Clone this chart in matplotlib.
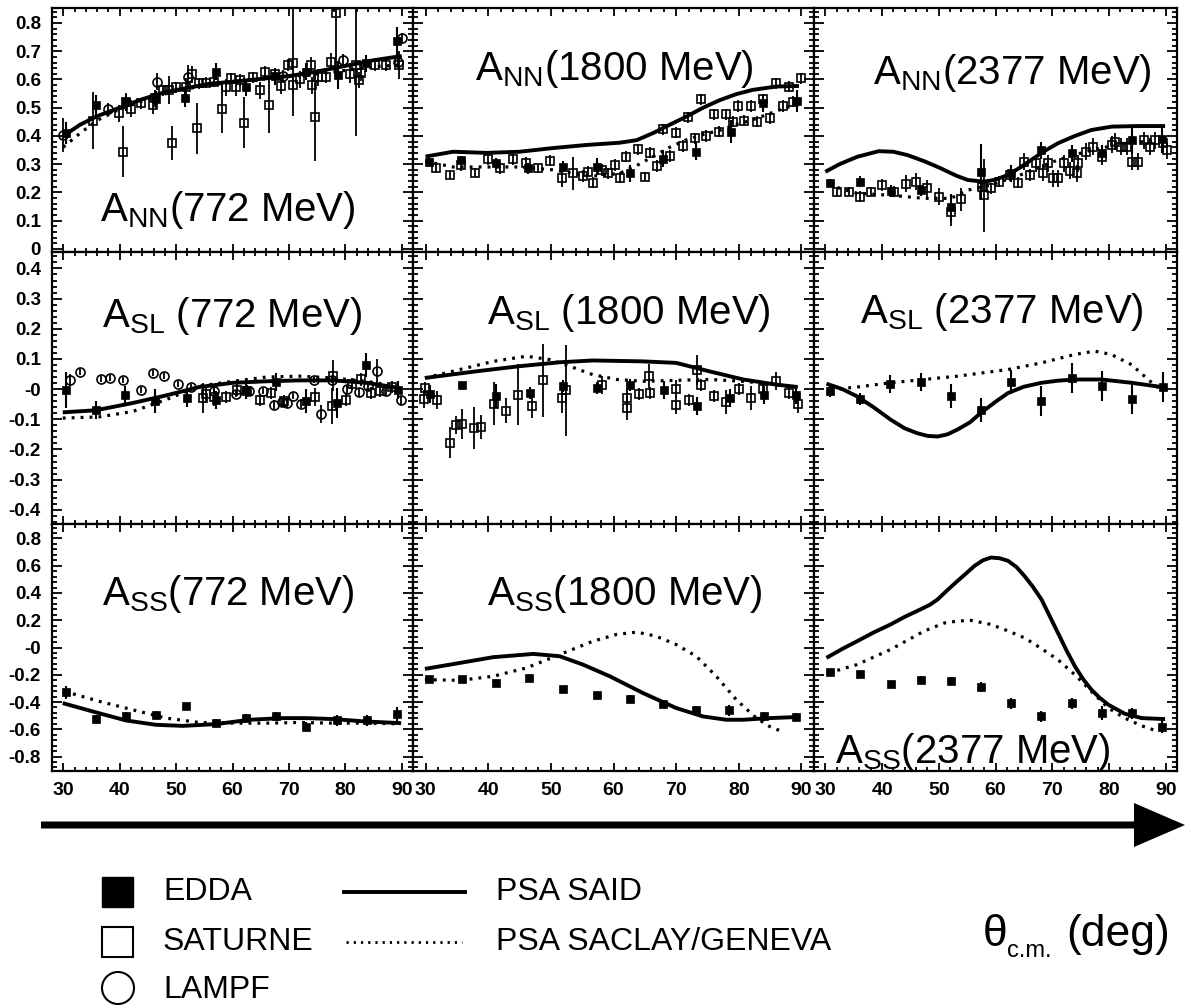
import numpy as np
import matplotlib
matplotlib.use('Agg')
import matplotlib.pyplot as plt
from matplotlib.ticker import FixedLocator, MultipleLocator, FuncFormatter, NullFormatter
from matplotlib.patches import FancyArrow, Rectangle, Ellipse
from matplotlib.lines import Line2D

plt.rcParams['font.family'] = ['Liberation Sans', 'DejaVu Sans']
plt.rcParams['mathtext.fontset'] = 'custom'
plt.rcParams['mathtext.rm'] = 'Liberation Sans'
plt.rcParams['mathtext.it'] = 'Liberation Sans:italic'
plt.rcParams['mathtext.bf'] = 'Liberation Sans:bold'
plt.rcParams['axes.unicode_minus'] = False

# ---------------- DATA ----------------
# ===== A_NN 772 MeV =====
nn772_said_x = [30, 33, 36, 40, 44, 48, 52, 56, 60, 65, 70, 75, 80, 85, 90]
nn772_said_y = [0.40, 0.44, 0.47, 0.50, 0.53, 0.555, 0.57, 0.585, 0.592, 0.602, 0.612, 0.628, 0.648, 0.668, 0.683]
nn772_sg_x = [30, 33, 36, 40, 45, 50, 55, 60, 65, 70, 75, 80, 85, 90]
nn772_sg_y = [0.36, 0.41, 0.455, 0.495, 0.53, 0.56, 0.578, 0.59, 0.60, 0.61, 0.62, 0.632, 0.645, 0.652]
nn772_edda_x = [30.4, 35.8, 41.1, 46.4, 51.5, 57.1, 62.4, 67.6, 73.1, 78.7, 83.7, 89.2]
nn772_edda_y = [0.41, 0.509, 0.52, 0.53, 0.533, 0.627, 0.572, 0.612, 0.627, 0.615, 0.657, 0.737]
nn772_edda_e = [0.04, 0.035, 0.03, 0.03, 0.03, 0.03, 0.03, 0.03, 0.03, 0.05, 0.03, 0.05]
nn772_sat_x = [35.3, 39.9, 40.5, 41.1, 42.0, 43.8, 45.9, 46.2, 47.6, 48.8, 49.3, 50.0, 51.8, 52.8, 53.7,
               54.1, 55.3, 56.8, 58.2, 58.9, 59.8, 60.7, 61.4, 62.1, 63.6, 64.8, 65.7, 66.4, 67.5, 68.6,
               69.8, 70.8, 70.8, 71.9, 74.0, 74.1, 74.6, 75.2, 76.6, 77.5, 78.4, 80.8, 81.9, 82.5, 82.8,
               85.2, 87.3, 89.5]
nn772_sat_y = [0.454, 0.48, 0.344, 0.521, 0.497, 0.515, 0.509, 0.533, 0.562, 0.562, 0.376, 0.572, 0.574, 0.619, 0.427,
               0.586, 0.588, 0.592, 0.497, 0.572, 0.604, 0.572, 0.598, 0.447, 0.607, 0.562, 0.627, 0.509, 0.619, 0.577,
               0.651, 0.659, 0.58, 0.60, 0.651, 0.58, 0.466, 0.607, 0.607, 0.663, 0.836, 0.619, 0.651, 0.598, 0.624,
               0.651, 0.651, 0.651]
nn772_sat_e = [0.10, 0.03, 0.09, 0.03, 0.03, 0.02, 0.03, 0.03, 0.02, 0.05, 0.06, 0.02, 0.03, 0.03, 0.09,
               0.02, 0.02, 0.02, 0.085, 0.03, 0.02, 0.03, 0.02, 0.09, 0.02, 0.03, 0.02, 0.10, 0.02, 0.03,
               0.02, 0.19, 0.03, 0.03, 0.03, 0.03, 0.155, 0.03, 0.02, 0.03, 0.23, 0.03, 0.25, 0.03, 0.03,
               0.02, 0.02, 0.05]
nn772_lampf_x = [29.9, 37.9, 46.7, 52.1, 68.9, 79.6, 89.4, 90.1]
nn772_lampf_y = [0.403, 0.497, 0.592, 0.61, 0.612, 0.669, 0.663, 0.745]
nn772_lampf_e = [0.06, 0.02, 0.03, 0.04, 0.02, 0.02, 0.02, 0.02]

# ===== A_NN 1800 MeV =====
nn1800_said_x = [30, 34.4, 39.7, 45, 50.3, 55.7, 61, 63.7, 66.3, 69, 71.6, 74.3, 77, 79.6, 82.2, 86, 89.6]
nn1800_said_y = [0.327, 0.344, 0.34, 0.344, 0.357, 0.368, 0.376, 0.385, 0.41, 0.44, 0.468, 0.50, 0.527, 0.548, 0.563, 0.575, 0.577]
nn1800_sg_x = [30, 34.4, 39.7, 45, 50.3, 55.7, 58, 61, 63.7, 66.3, 69, 71.6, 74.3, 77, 79.6, 82.2, 85, 87.5, 89.6]
nn1800_sg_y = [0.31, 0.29, 0.29, 0.29, 0.28, 0.26, 0.258, 0.268, 0.295, 0.327, 0.36, 0.386, 0.405, 0.42, 0.44, 0.457, 0.48, 0.50, 0.51]
nn1800_edda_x = [30.6, 35.7, 41.3, 46.4, 51.95, 57.3, 62.6, 67.9, 73.2, 78.8, 83.85, 89.3]
nn1800_edda_y = [0.306, 0.315, 0.303, 0.285, 0.291, 0.291, 0.267, 0.32, 0.344, 0.415, 0.515, 0.523]
nn1800_edda_e = [0.015, 0.015, 0.02, 0.02, 0.02, 0.03, 0.03, 0.03, 0.03, 0.04, 0.03, 0.04]
nn1800_sat_x = [31.75, 33.9, 35.7, 37.9, 40.0, 41.85, 43.9, 46.0, 48.0, 49.9, 51.8, 53.55, 55.1, 55.9, 56.7,
                58.1, 59.1, 60.2, 61.0, 62.05, 63.9, 65.0, 65.9, 66.9, 67.9, 69.0, 69.9, 71.1, 71.9, 73.0,
                74.0, 74.8, 76.0, 76.8, 77.9, 79.0, 79.9, 80.9, 82.0, 82.9, 83.85, 84.9, 85.9, 87.0, 88.0,
                88.6, 90.0]
nn1800_sat_y = [0.285, 0.262, 0.297, 0.27, 0.317, 0.285, 0.317, 0.305, 0.285, 0.312, 0.25, 0.267, 0.258, 0.273, 0.234,
                0.279, 0.267, 0.297, 0.252, 0.326, 0.352, 0.256, 0.341, 0.293, 0.423, 0.329, 0.411, 0.364, 0.466, 0.391,
                0.529, 0.40, 0.477, 0.415, 0.477, 0.45, 0.506, 0.454, 0.506, 0.45, 0.529, 0.462, 0.586, 0.506, 0.574,
                0.521, 0.604]
nn1800_sat_e = [0.015, 0.015, 0.02, 0.015, 0.02, 0.02, 0.02, 0.02, 0.015, 0.02, 0.03, 0.06, 0.02, 0.02, 0.02,
                0.02, 0.02, 0.02, 0.02, 0.02, 0.02, 0.015, 0.02, 0.02, 0.02, 0.02, 0.02, 0.02, 0.02, 0.02,
                0.02, 0.02, 0.02, 0.02, 0.02, 0.02, 0.02, 0.02, 0.02, 0.02, 0.02, 0.02, 0.02, 0.02, 0.02,
                0.02, 0.02]

# ===== A_NN 2377 MeV =====
nn2377_said_x = [30, 32.5, 35.6, 39.4, 42, 44.5, 47.5, 50.4, 53, 55.1, 58, 60, 62.2, 64.5, 66.3, 68.5, 71, 74, 76.9, 80.5, 85, 89.9]
nn2377_said_y = [0.273, 0.30, 0.326, 0.346, 0.344, 0.332, 0.31, 0.285, 0.26, 0.244, 0.238, 0.245, 0.262, 0.29, 0.315, 0.345, 0.374, 0.40, 0.421, 0.433, 0.435, 0.435]
nn2377_sg_x = [30.6, 35.6, 41.5, 47.4, 52.1, 55.1, 59.2, 65.1, 71.0, 76.9, 82.8, 89.3]
nn2377_sg_y = [0.226, 0.197, 0.19, 0.179, 0.179, 0.208, 0.226, 0.267, 0.315, 0.35, 0.374, 0.385]
nn2377_edda_x = [30.8, 36.1, 41.5, 46.8, 52.1, 57.4, 62.75, 68.1, 73.4, 78.7, 84.0, 89.3]
nn2377_edda_y = [0.234, 0.238, 0.206, 0.208, 0.147, 0.273, 0.267, 0.35, 0.338, 0.338, 0.385, 0.388]
nn2377_edda_e = [0.015, 0.02, 0.02, 0.02, 0.048, 0.10, 0.03, 0.03, 0.03, 0.03, 0.05, 0.05]
nn2377_sat_x = [32.1, 34.1, 36.1, 38.0, 40.0, 42.1, 44.2, 45.9, 48.0, 50.1, 52.1, 54.0, 57.7, 58.0, 59.2,
                60.7, 62.5, 63.9, 65.1, 66.0, 67.2, 68.4, 69.2, 70.1, 71.0, 72.1, 73.1, 74.3, 74.6, 76.0,
                77.2, 78.7, 80.5, 81.0, 82.2, 83.1, 84.0, 85.2, 86.1, 87.2, 88.1, 89.6, 90.2]
nn2377_sat_y = [0.203, 0.203, 0.185, 0.203, 0.226, 0.203, 0.23, 0.238, 0.214, 0.185, 0.132, 0.175, 0.22, 0.19, 0.214,
                0.238, 0.262, 0.234, 0.309, 0.262, 0.303, 0.27, 0.303, 0.25, 0.25, 0.303, 0.277, 0.267, 0.303, 0.344,
                0.362, 0.326, 0.368, 0.38, 0.362, 0.362, 0.309, 0.309, 0.385, 0.362, 0.385, 0.374, 0.35]
nn2377_sat_e = [0.015, 0.015, 0.02, 0.015, 0.02, 0.02, 0.03, 0.03, 0.03, 0.03, 0.05, 0.04, 0.02, 0.13, 0.02,
                0.02, 0.02, 0.02, 0.03, 0.02, 0.03, 0.03, 0.03, 0.03, 0.03, 0.03, 0.03, 0.03, 0.03, 0.03,
                0.03, 0.03, 0.03, 0.03, 0.03, 0.03, 0.03, 0.03, 0.03, 0.03, 0.03, 0.03, 0.03]

# ===== A_SL 772 MeV =====
sl772_said_x = [29.9, 35.8, 42.3, 48.2, 54.1, 60.1, 66.0, 71.9, 77.8, 83.7, 89.6]
sl772_said_y = [-0.077, -0.07, -0.046, -0.021, 0.007, 0.021, 0.026, 0.029, 0.029, 0.021, 0.004]
sl772_sg_x = [29.9, 36.4, 42.3, 48.2, 54.1, 60.1, 66.0, 71.9, 77.8, 83.7, 89.0]
sl772_sg_y = [-0.096, -0.092, -0.074, -0.035, 0.01, 0.026, 0.04, 0.043, 0.037, 0.026, 0.01]
sl772_edda_x = [30.4, 35.8, 41.0, 46.2, 51.9, 57.1, 62.4, 67.8, 72.97, 78.5, 83.7, 89.35]
sl772_edda_y = [-0.002, -0.07, -0.018, -0.04, -0.029, -0.037, -0.002, 0.023, -0.04, -0.046, 0.081, -0.002]
sl772_edda_e = [0.06, 0.03, 0.03, 0.04, 0.03, 0.03, 0.03, 0.03, 0.04, 0.05, 0.04, 0.03]
sl772_sat_x = [54.7, 55.3, 56.8, 58.9, 60.8, 62.5, 64.8, 66.9, 69.2, 74.6, 77.7, 77.8, 80.2, 81.2, 82.8, 84.6, 86.1, 88.2]
sl772_sat_y = [-0.029, -0.015, -0.026, -0.026, -0.004, -0.007, -0.037, -0.013, -0.04, -0.026, -0.055, 0.045, -0.035, 0.018, 0.032, -0.013, -0.007, 0.007]
sl772_sat_e = [0.05, 0.03, 0.03, 0.02, 0.02, 0.02, 0.02, 0.02, 0.02, 0.03, 0.06, 0.05, 0.02, 0.02, 0.02, 0.02, 0.02, 0.02]
sl772_lampf_x = [31.2, 33.0, 36.7, 38.2, 40.6, 43.8, 45.9, 47.8, 50.3, 52.7, 56.8, 60.7, 63.0, 65.4, 67.3, 68.8,
                 69.6, 70.8, 72.2, 74.4, 75.7, 77.7, 80.3, 82.4, 84.0, 85.6, 87.3, 89.9]
sl772_lampf_y = [0.029, 0.056, 0.034, 0.037, 0.029, -0.002, 0.052, 0.045, 0.017, 0.007, -0.007, -0.015, -0.007, -0.007, -0.051, -0.044,
                 -0.046, -0.022, -0.048, 0.029, -0.081, 0.029, 0.0, -0.01, 0.01, 0.059, -0.007, -0.037]
sl772_lampf_e = [0.02, 0.01, 0.01, 0.01, 0.01, 0.01, 0.01, 0.01, 0.01, 0.01, 0.01, 0.01, 0.01, 0.01, 0.015, 0.015,
                 0.015, 0.01, 0.015, 0.01, 0.03, 0.01, 0.015, 0.015, 0.015, 0.04, 0.015, 0.015]

# ===== A_SL 1800 MeV =====
sl1800_said_x = [29.9, 38.1, 45.0, 51.4, 56.7, 64.7, 70.0, 75.3, 80.7, 86.0, 89.4]
sl1800_said_y = [0.037, 0.059, 0.076, 0.089, 0.095, 0.092, 0.087, 0.059, 0.032, 0.015, 0.007]
sl1800_sg_x = [29.9, 35.5, 40.8, 46.1, 49.8, 53.0, 56.7, 60.5, 64.7, 70.0, 75.3, 80.7, 86.0, 89.4]
sl1800_sg_y = [0.037, 0.065, 0.092, 0.109, 0.098, 0.076, 0.048, 0.032, 0.026, 0.029, 0.032, 0.026, 0.015, 0.004]
sl1800_edda_x = [30.7, 35.8, 41.2, 46.6, 52.0, 57.3, 62.6, 68.0, 73.3, 78.6, 84.0, 89.2]
sl1800_edda_y = [-0.015, 0.015, -0.022, -0.013, 0.01, 0.004, 0.015, -0.002, -0.055, -0.029, -0.018, -0.018]
sl1800_edda_e = [0.03, 0.01, 0.04, 0.02, 0.02, 0.02, 0.02, 0.03, 0.03, 0.03, 0.03, 0.03]
sl1800_sat_x = [29.9, 29.8, 31.9, 33.9, 34.9, 35.9, 37.7, 38.9, 40.9, 42.9, 44.7, 47.0, 48.8, 51.8, 52.4, 58.1,
                62.1, 62.2, 64.0, 65.7, 65.9, 69.9, 70.0, 72.1, 73.3, 74.0, 76.0, 77.9, 80.0, 82.0, 83.9, 86.0,
                88.0, 89.4]
sl1800_sat_y = [0.004, -0.033, -0.037, -0.177, -0.118, -0.115, -0.129, -0.126, -0.048, -0.071, -0.018, -0.057, 0.029, -0.029, -0.004, 0.015,
                -0.062, -0.029, -0.015, 0.043, -0.013, 0.0, -0.052, -0.037, 0.063, 0.015, -0.022, -0.044, 0.0, -0.029, 0.0, 0.026,
                -0.013, -0.048]
sl1800_sat_e = [0.02, 0.03, 0.03, 0.05, 0.03, 0.05, 0.07, 0.04, 0.07, 0.04, 0.10, 0.04, 0.12, 0.05, 0.15, 0.03,
                0.04, 0.03, 0.02, 0.04, 0.02, 0.03, 0.03, 0.02, 0.05, 0.02, 0.02, 0.04, 0.02, 0.04, 0.02, 0.03,
                0.02, 0.03]

# ===== A_SL 2377 MeV =====
sl2377_said_x = [30.2, 33, 35.6, 38.5, 41.5, 44, 46.2, 48, 49.8, 51.5, 53.3, 55.5, 57.4, 60, 62.2, 65, 68.1, 71, 74.0, 78.7, 84.0, 89.3]
sl2377_said_y = [0.018, 0.0, -0.024, -0.06, -0.101, -0.13, -0.146, -0.155, -0.157, -0.15, -0.134, -0.11, -0.079, -0.042, -0.013, 0.008, 0.021, 0.028, 0.032, 0.032, 0.021, 0.007]
sl2377_sg_x = [30.9, 35.6, 41.5, 47.4, 53.3, 62.2, 68.1, 74.0, 77.5, 80.4, 84.0, 86.9, 88.7]
sl2377_sg_y = [-0.002, 0.007, 0.021, 0.032, 0.043, 0.065, 0.087, 0.115, 0.126, 0.115, 0.081, 0.032, 0.004]
sl2377_edda_x = [30.8, 36.1, 41.4, 46.8, 52.1, 57.4, 62.75, 68.1, 73.5, 78.7, 84.1, 89.6]
sl2377_edda_y = [-0.007, -0.033, 0.018, 0.023, -0.022, -0.07, 0.023, -0.04, 0.037, 0.01, -0.033, 0.007]
sl2377_edda_e = [0.02, 0.02, 0.03, 0.03, 0.04, 0.04, 0.04, 0.05, 0.05, 0.05, 0.05, 0.05]

# ===== A_SS 772 MeV =====
ss772_said_x = [29.9, 35.8, 41.1, 46.4, 51.2, 57.1, 63.0, 68.9, 73.1, 77.8, 83.7, 89.9]
ss772_said_y = [-0.408, -0.476, -0.535, -0.567, -0.575, -0.562, -0.530, -0.518, -0.518, -0.525, -0.543, -0.555]
ss772_sg_x = [30.2, 36.4, 42.3, 48.2, 54.1, 60.1, 66.0, 71.9, 77.8, 83.7, 89.6]
ss772_sg_y = [-0.322, -0.395, -0.457, -0.518, -0.55, -0.555, -0.555, -0.55, -0.555, -0.555, -0.56]
ss772_edda_x = [30.4, 35.8, 41.1, 46.4, 51.8, 57.1, 62.4, 67.8, 73.1, 78.5, 83.8, 89.2]
ss772_edda_y = [-0.329, -0.525, -0.501, -0.493, -0.432, -0.555, -0.518, -0.501, -0.58, -0.535, -0.535, -0.486]
ss772_edda_e = [0.05, 0.03, 0.03, 0.03, 0.02, 0.03, 0.03, 0.03, 0.03, 0.04, 0.04, 0.05]

# ===== A_SS 1800 MeV =====
ss1800_said_x = [29.9, 35.5, 40.8, 47.2, 51.4, 55.1, 59.4, 64.7, 70.0, 74.3, 78.0, 80.7, 84.9, 89.4]
ss1800_said_y = [-0.157, -0.113, -0.071, -0.047, -0.064, -0.125, -0.211, -0.334, -0.444, -0.506, -0.53, -0.53, -0.518, -0.51]
ss1800_sg_x = [29.9, 35.5, 40.8, 46.1, 51.4, 56.7, 60.5, 63.7, 66.8, 70.0, 73.2, 76.4, 79.6, 82.8, 84.9, 87.3]
ss1800_sg_y = [-0.236, -0.241, -0.211, -0.15, -0.052, 0.046, 0.096, 0.113, 0.083, 0.022, -0.064, -0.211, -0.383, -0.518, -0.579, -0.624]
ss1800_edda_x = [30.6, 35.9, 41.2, 46.5, 52.0, 57.3, 62.6, 67.9, 73.2, 78.5, 84.0, 89.2]
ss1800_edda_y = [-0.231, -0.231, -0.26, -0.223, -0.305, -0.351, -0.378, -0.413, -0.457, -0.462, -0.506, -0.511]
ss1800_edda_e = [0.02, 0.02, 0.02, 0.02, 0.02, 0.02, 0.03, 0.03, 0.03, 0.04, 0.03, 0.03]

# ===== A_SS 2377 MeV =====
ss2377_said_x = [30.2, 33, 35.6, 38.5, 41.5, 44, 46.8, 48.5, 49.8, 51.5, 53.3, 55, 56.3, 57.8, 59.2, 60.7, 62.2, 63.7,
                 65.1, 66.6, 68.1, 69.5, 71.0, 72.5, 74.0, 75.5, 76.9, 78.4, 79.9, 82.8, 85.8, 89.9]
ss2377_said_y = [-0.076, -0.01, 0.046, 0.11, 0.169, 0.225, 0.28, 0.315, 0.353, 0.42, 0.488, 0.55, 0.599, 0.64, 0.66, 0.655, 0.636, 0.59,
                 0.525, 0.445, 0.353, 0.235, 0.108, -0.02, -0.138, -0.235, -0.309, -0.37, -0.42, -0.486, -0.518, -0.525]
ss2377_sg_x = [30.6, 35.6, 41.5, 47.4, 51, 53.3, 55.7, 59.2, 62, 65.1, 68, 71.0, 74, 76.9, 79.9, 82.8, 85.8, 88.7]
ss2377_sg_y = [-0.187, -0.125, -0.015, 0.12, 0.18, 0.194, 0.199, 0.169, 0.125, 0.071, -0.005, -0.089, -0.20, -0.322, -0.444, -0.518, -0.575, -0.616]
ss2377_edda_x = [30.8, 36.1, 41.5, 46.8, 52.1, 57.4, 62.75, 68.1, 73.5, 78.7, 84.1, 89.4]
ss2377_edda_y = [-0.182, -0.192, -0.265, -0.241, -0.248, -0.29, -0.408, -0.506, -0.408, -0.481, -0.481, -0.58]
ss2377_edda_e = [0.02, 0.02, 0.02, 0.03, 0.03, 0.04, 0.04, 0.04, 0.04, 0.05, 0.04, 0.05]

titles = [
    [r'$\mathrm{A}_{\mathrm{NN}}$(772 MeV)', r'$\mathrm{A}_{\mathrm{NN}}$(1800 MeV)', r'$\mathrm{A}_{\mathrm{NN}}$(2377 MeV)'],
    [r'$\mathrm{A}_{\mathrm{SL}}$ (772 MeV)', r'$\mathrm{A}_{\mathrm{SL}}$ (1800 MeV)', r'$\mathrm{A}_{\mathrm{SL}}$ (2377 MeV)'],
    [r'$\mathrm{A}_{\mathrm{SS}}$(772 MeV)', r'$\mathrm{A}_{\mathrm{SS}}$(1800 MeV)', r'$\mathrm{A}_{\mathrm{SS}}$(2377 MeV)'],
]
x_ticks = [30, 40, 50, 60, 70, 80, 90]
y_ticks = [
    [0, 0.1, 0.2, 0.3, 0.4, 0.5, 0.6, 0.7, 0.8],
    [-0.4, -0.3, -0.2, -0.1, 0, 0.1, 0.2, 0.3, 0.4],
    [-0.8, -0.6, -0.4, -0.2, 0, 0.2, 0.4, 0.6, 0.8],
]
legend_labels = ['EDDA', 'SATURNE', 'LAMPF', 'PSA SAID', 'PSA SACLAY/GENEVA']

panels = [
    [dict(said=(nn772_said_x, nn772_said_y), sg=(nn772_sg_x, nn772_sg_y),
          edda=(nn772_edda_x, nn772_edda_y, nn772_edda_e), sat=(nn772_sat_x, nn772_sat_y, nn772_sat_e),
          lampf=(nn772_lampf_x, nn772_lampf_y, nn772_lampf_e)),
     dict(said=(nn1800_said_x, nn1800_said_y), sg=(nn1800_sg_x, nn1800_sg_y),
          edda=(nn1800_edda_x, nn1800_edda_y, nn1800_edda_e), sat=(nn1800_sat_x, nn1800_sat_y, nn1800_sat_e)),
     dict(said=(nn2377_said_x, nn2377_said_y), sg=(nn2377_sg_x, nn2377_sg_y),
          edda=(nn2377_edda_x, nn2377_edda_y, nn2377_edda_e), sat=(nn2377_sat_x, nn2377_sat_y, nn2377_sat_e))],
    [dict(said=(sl772_said_x, sl772_said_y), sg=(sl772_sg_x, sl772_sg_y),
          edda=(sl772_edda_x, sl772_edda_y, sl772_edda_e), sat=(sl772_sat_x, sl772_sat_y, sl772_sat_e),
          lampf=(sl772_lampf_x, sl772_lampf_y, sl772_lampf_e)),
     dict(said=(sl1800_said_x, sl1800_said_y), sg=(sl1800_sg_x, sl1800_sg_y),
          edda=(sl1800_edda_x, sl1800_edda_y, sl1800_edda_e), sat=(sl1800_sat_x, sl1800_sat_y, sl1800_sat_e)),
     dict(said=(sl2377_said_x, sl2377_said_y), sg=(sl2377_sg_x, sl2377_sg_y),
          edda=(sl2377_edda_x, sl2377_edda_y, sl2377_edda_e))],
    [dict(said=(ss772_said_x, ss772_said_y), sg=(ss772_sg_x, ss772_sg_y),
          edda=(ss772_edda_x, ss772_edda_y, ss772_edda_e)),
     dict(said=(ss1800_said_x, ss1800_said_y), sg=(ss1800_sg_x, ss1800_sg_y),
          edda=(ss1800_edda_x, ss1800_edda_y, ss1800_edda_e)),
     dict(said=(ss2377_said_x, ss2377_said_y), sg=(ss2377_sg_x, ss2377_sg_y),
          edda=(ss2377_edda_x, ss2377_edda_y, ss2377_edda_e))],
]

# ---------------- LAYOUT ----------------
W, H = 1192, 1008
col_px = [(52, 413), (413, 814), (814, 1177)]
row_px = [(8, 252), (252, 524), (524, 771)]
ylims = [(-0.011, 0.853), (-0.447, 0.4545), (-0.906, 0.906)]
yminor = [0.02, 0.02, 0.04]
title_pos = [[(100, 221), (475, 80), (873, 84)],
             [(102, 327), (487, 324), (860, 323)],
             [(102, 605), (487, 605), (835, 763)]]

fig = plt.figure(figsize=(W / 100, H / 100), dpi=100)

def ylab(v, pos, row):
    if abs(v) < 1e-9:
        return '0' if row == 0 else '-0'
    return '%.1f' % v

for r in range(3):
    for c in range(3):
        x0, x1 = col_px[c]
        y0, y1 = row_px[r]
        ax = fig.add_axes([x0 / W, 1 - y1 / H, (x1 - x0) / W, (y1 - y0) / H])
        ax.set_xlim(28, 92)
        ax.set_ylim(*ylims[r])
        for s in ax.spines.values():
            s.set_linewidth(1.6)
        ax.xaxis.set_major_locator(FixedLocator(x_ticks))
        ax.xaxis.set_minor_locator(MultipleLocator(2))
        ax.yaxis.set_major_locator(FixedLocator(y_ticks[r]))
        ax.yaxis.set_minor_locator(MultipleLocator(yminor[r]))
        ax.tick_params(which='both', direction='in', top=True, right=True, width=1.3)
        ax.tick_params(axis='y', which='major', length=7)
        ax.tick_params(axis='y', which='minor', length=3.5)
        ax.tick_params(axis='x', which='major', length=6)
        ax.tick_params(axis='x', which='minor', length=3)
        if c == 0:
            ax.yaxis.set_major_formatter(FuncFormatter(lambda v, p, rr=r: ylab(v, p, rr)))
            ax.tick_params(axis='y', labelsize=13.5, pad=8)
            for lab in ax.get_yticklabels():
                lab.set_fontweight('bold')
        else:
            ax.yaxis.set_major_formatter(NullFormatter())
        if r == 2:
            ax.xaxis.set_major_formatter(FuncFormatter(lambda v, p: '%d' % v))
            ax.tick_params(axis='x', labelsize=14, pad=8)
            for lab in ax.get_xticklabels():
                lab.set_fontweight('bold')
        else:
            ax.xaxis.set_major_formatter(NullFormatter())

        d = panels[r][c]
        if 'sat' in d:
            sx, sy, se = d['sat']
            ax.errorbar(sx, sy, yerr=se, fmt='s', ms=6.2, mfc='none', mec='black', mew=1.2,
                        ecolor='black', elinewidth=1.3, capsize=0, zorder=3)
        if 'lampf' in d:
            lx, ly, le = d['lampf']
            ax.errorbar(lx, ly, yerr=le, fmt='o', ms=6.5, mfc='none', mec='black', mew=1.2,
                        ecolor='black', elinewidth=1.3, capsize=0, zorder=3)
        ex, ey, ee = d['edda']
        ax.errorbar(ex, ey, yerr=ee, fmt='s', ms=5.4, mfc='black', mec='black', mew=0.5,
                    ecolor='black', elinewidth=1.5, capsize=0, zorder=4)
        ax.plot(*d['said'], color='black', lw=2.8, solid_capstyle='butt', zorder=5)
        ax.plot(*d['sg'], color='black', lw=2.3, linestyle=(0, (0.9, 1.9)), zorder=5)

        tx, ty = title_pos[r][c]
        fig.text(tx / W, 1 - ty / H, titles[r][c], fontsize=29, ha='left', va='baseline', zorder=10)

# ---------------- LEGEND / ARROW ----------------
lax = fig.add_axes([0, 0, 1, 230 / H])
lax.set_xlim(0, W)
lax.set_ylim(H, H - 230)
lax.axis('off')
lax.add_patch(FancyArrow(41, 825, 1144, 0, width=7, head_width=44, head_length=51,
                         length_includes_head=True, color='black', lw=0))
leg_y = [892, 942, 990]
lax.add_patch(Rectangle((102, leg_y[0] - 15), 31, 30, facecolor='black', edgecolor='black'))
lax.add_patch(Rectangle((102, leg_y[1] - 15), 31, 30, facecolor='none', edgecolor='black', lw=1.5))
lax.add_patch(Ellipse((118, leg_y[2] - 2), 32, 32, facecolor='none', edgecolor='black', lw=1.5))
lax.add_line(Line2D([344, 465], [leg_y[0], leg_y[0]], color='black', lw=2.8))
lax.add_line(Line2D([346, 462], [leg_y[1], leg_y[1]], color='black', lw=2.0, linestyle=(0, (0.8, 1.8))))
for i, lab in enumerate(legend_labels[:3]):
    lax.text(163, leg_y[i], lab, fontsize=23, ha='left', va='center')
for i, lab in enumerate(legend_labels[3:]):
    lax.text(496, leg_y[i], lab, fontsize=23, ha='left', va='center')
# axis title: theta with c.m. subscript
lax.text(983, 946, '\u03b8', fontsize=32, ha='left', va='baseline')
lax.text(1007, 957, 'c.m.', fontsize=17, ha='left', va='baseline')
lax.text(1066, 946, '(deg)', fontsize=32, ha='left', va='baseline')

fig.savefig('out.png', dpi=100)
